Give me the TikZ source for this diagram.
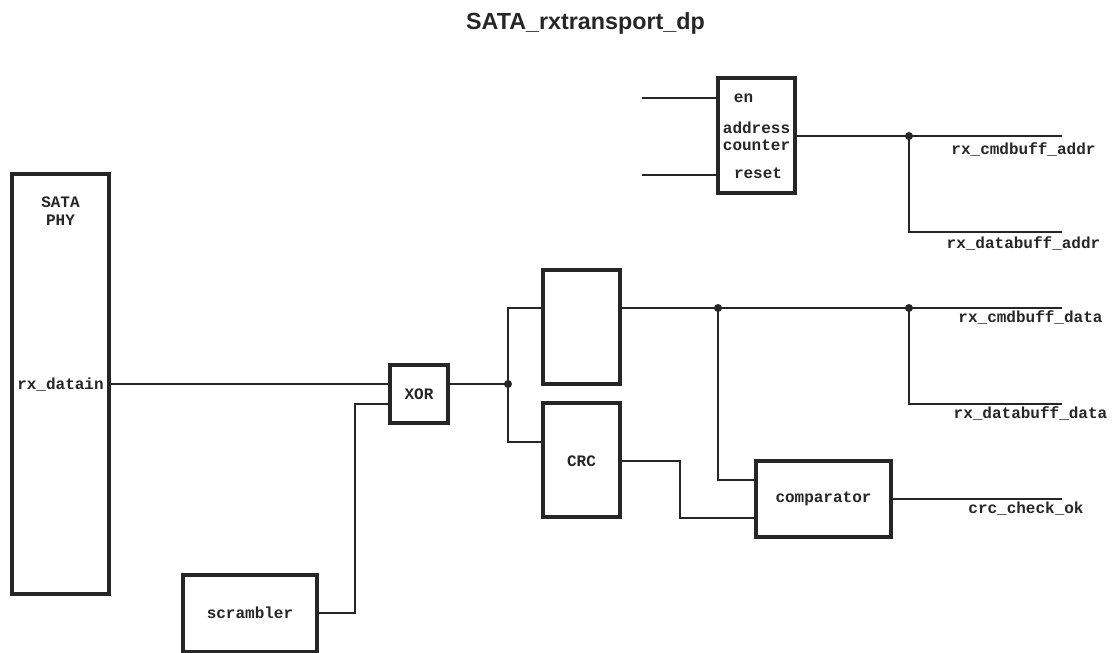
\documentclass[tikz,border=0pt]{standalone}
\usepackage{fontspec}
\setmainfont{Liberation Sans}
\setmonofont{Liberation Mono}
\begin{document}
\begin{tikzpicture}[x=1pt,y=-1pt,
  blk/.style={draw=black!85, line width=3.2pt, fill=white, inner sep=0pt},
  wire/.style={draw=black!85, line width=2pt},
  lbl/.style={font=\fontsize{16}{16}\selectfont\ttfamily\bfseries, text=black!85, anchor=base, inner sep=0pt},
  jdot/.style={circle, fill=black!85, inner sep=0pt, minimum size=8pt}]
\useasboundingbox (0,0) rectangle (1117,653);

% title
\node[font=\fontsize{23.3}{24}\selectfont\bfseries, text=black!85, anchor=base, inner sep=0pt] (title) at (585.5,29) {SATA\_rxtransport\_dp};

% blocks
\node[blk, minimum width=97pt, minimum height=420pt] (phy) at (60.5,384) {};
\node[blk, minimum width=77pt, minimum height=115pt] (cnt) at (756.5,135.5) {};
\node[blk, minimum width=58pt, minimum height=58pt] (xor) at (419,394) {};
\node[blk, minimum width=77pt, minimum height=114pt] (buf) at (581.5,327) {};
\node[blk, minimum width=77pt, minimum height=114pt] (crc) at (581.5,460) {};
\node[blk, minimum width=135pt, minimum height=76pt] (cmp) at (823.5,499) {};
\node[blk, minimum width=134pt, minimum height=77pt] (scr) at (250,613.5) {};

% block texts
\node[lbl] (tsata) at (60.5,207) {SATA};
\node[lbl] (tphy) at (60.5,225) {PHY};
\node[lbl] (tdin) at (60.5,389) {rx\_datain};
\node[lbl] (ten) at (743.5,102) {en};
\node[lbl] (taddr) at (756.5,133) {address};
\node[lbl] (tcnt) at (756.5,150) {counter};
\node[lbl] (trst) at (758,178) {reset};
\node[lbl] (txor) at (419,399) {XOR};
\node[lbl] (tcrc) at (581.5,466) {CRC};
\node[lbl] (tcmp) at (823.5,502) {comparator};
\node[lbl] (tscr) at (250,618) {scrambler};

% output labels
\node[lbl] (ocmda) at (1023.5,154) {rx\_cmdbuff\_addr};
\node[lbl] (odata) at (1023.5,248) {rx\_databuff\_addr};
\node[lbl] (ocmdd) at (1030.5,322) {rx\_cmdbuff\_data};
\node[lbl] (odatd) at (1030.5,418) {rx\_databuff\_data};
\node[lbl] (ocrc) at (1026,513) {crc\_check\_ok};

% pins and junctions
\coordinate (enin) at (642,98);
\coordinate (rstin) at (642,175);
\coordinate (ja) at (909,136);
\coordinate (ea1) at (1062,136);
\coordinate (ea2) at (1062,232);
\coordinate (jx) at (508,384);
\coordinate (jb) at (718,308);
\coordinate (jc) at (909,308);
\coordinate (ed1) at (1062,308);
\coordinate (ed2) at (1062,404);
\coordinate (ecrc) at (1062,499);

% address counter
\draw[wire] (enin) -- (enin -| cnt.west);
\draw[wire] (rstin) -- (rstin -| cnt.west);
\draw[wire] (ja -| cnt.east) -- (ja) -- (ea1);
\draw[wire] (ja) -- (ja |- ea2) -- (ea2);

% data path
\draw[wire] (phy.east |- jx) -- (jx -| xor.west);
\draw[wire] (scr.east |- 0,613) -- (355,613) -- (355,404) -- (xor.west |- 0,404);
\draw[wire] (xor.east |- jx) -- (jx);
\draw[wire] (jx) -- (508,308) -- (buf.west |- 0,308);
\draw[wire] (jx) -- (508,442) -- (crc.west |- 0,442);
\draw[wire] (buf.east |- jb) -- (jb) -- (jc) -- (ed1);
\draw[wire] (jc) -- (jc |- ed2) -- (ed2);
\draw[wire] (jb) -- (718,480) -- (cmp.west |- 0,480);
\draw[wire] (crc.east |- 0,461) -- (680,461) -- (680,518) -- (cmp.west |- 0,518);
\draw[wire] (cmp.east |- ecrc) -- (ecrc);

% junction dots
\node[jdot] (dja) at (ja) {};
\node[jdot] (djx) at (jx) {};
\node[jdot] (djb) at (jb) {};
\node[jdot] (djc) at (jc) {};
\end{tikzpicture}
\end{document}
